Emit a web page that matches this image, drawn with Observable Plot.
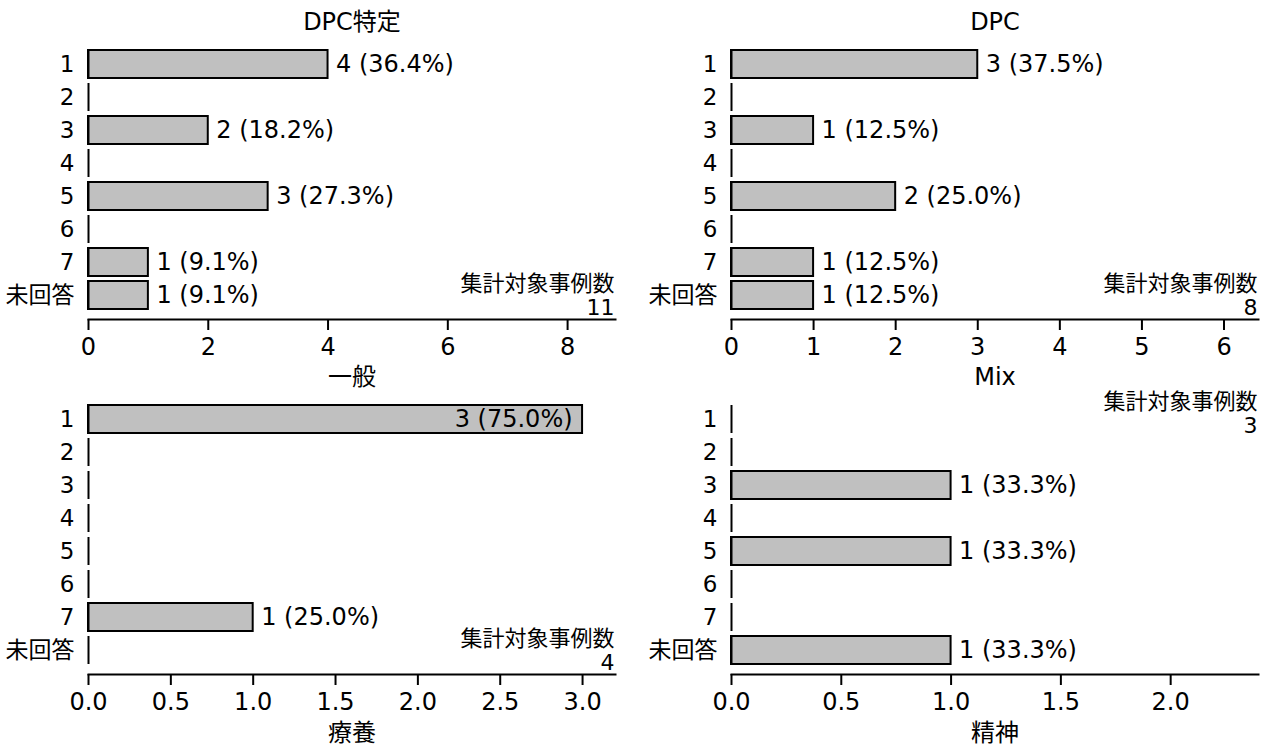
<!DOCTYPE html>
<html><head><meta charset="utf-8">
<script src="https://cdn.jsdelivr.net/npm/d3@7"></script>
<script src="https://cdn.jsdelivr.net/npm/@observablehq/plot@0.6"></script>
<style>
body{margin:0;background:#fff;}
#wrap{position:relative;width:1269px;height:746px;overflow:hidden;}
.panel{position:absolute;}
</style></head><body><div id="wrap"></div>
<script>
const categories = ["1","2","3","4","5","6","7","未回答"];
const titles = ["DPC特定","DPC","一般","Mix"];
const xLabels = [null, null, "療養", "精神"];
const valuesDpcTokutei = [4,0,2,0,3,0,1,1];
const valuesDpc = [3,0,1,0,2,0,1,1];
const valuesIppan = [3,0,0,0,0,0,1,0];
const valuesMix = [0,0,1,0,1,0,0,1];
const caseCounts = [11, 8, 4, 3];
const xDomainMax = [8.8, 6.42, 3.2, 2.4];
const xTicks = [[0,2,4,6,8],[0,1,2,3,4,5,6],[0,0.5,1,1.5,2,2.5,3],[0,0.5,1,1.5,2]];
const xTickFormat = ["d","d",".1f",".1f"];
const countLabel = "集計対象事例数";
const countTop = [false, false, false, true];

const seriesList = [valuesDpcTokutei, valuesDpc, valuesIppan, valuesMix];
const FONT = "'DejaVu Sans', 'Noto Sans CJK JP', sans-serif";
const FS_NUM = 24;
const FS_CJK = 22;

const layout = [
  {left: 0, top: 0, width: 634, height: 355, ml: 88, mr: 19},
  {left: 634, top: 0, width: 635, height: 355, ml: 97, mr: 11},
  {left: 0, top: 355, width: 634, height: 391, ml: 88, mr: 19},
  {left: 634, top: 355, width: 635, height: 391, ml: 97, mr: 11}
];

const wrap = document.getElementById("wrap");

seriesList.forEach((vals, i) => {
  const L = layout[i];
  const total = caseCounts[i];
  const rows = categories.map((c, k) => ({cat: c, value: vals[k]}));
  const nonzero = rows.filter(d => d.value > 0);
  const fmt = d => `${d.value} (${(d.value / total * 100).toFixed(1)}%)`;
  const inside = nonzero.filter(d => d.value / xDomainMax[i] > 0.7);
  const outside = nonzero.filter(d => d.value / xDomainMax[i] <= 0.7);
  const marginBottom = L.height - 319;
  const countMarks = countTop[i]
    ? [
        Plot.text([countLabel], {frameAnchor: "top-right", lineAnchor: "top", textAnchor: "end", dy: -6, dx: -1, fontSize: FS_CJK}),
        Plot.text([String(total)], {frameAnchor: "top-right", lineAnchor: "top", textAnchor: "end", dy: 18, dx: -1, fontSize: 22})
      ]
    : [
        Plot.text([countLabel], {frameAnchor: "bottom-right", lineAnchor: "bottom", textAnchor: "end", dy: -29, dx: -1, fontSize: FS_CJK}),
        Plot.text([String(total)], {frameAnchor: "bottom-right", lineAnchor: "bottom", textAnchor: "end", dy: -5, dx: -1, fontSize: 22})
      ];
  const marks = [
    Plot.barX(nonzero, {x: "value", y: "cat", fill: "#c0c0c0", stroke: "black", strokeWidth: 2}),
    Plot.tickX(rows, {x: 0, y: "cat", stroke: "black", strokeWidth: 2}),
    Plot.text(outside, {x: "value", y: "cat", text: fmt, textAnchor: "start", dx: 8, fontSize: FS_NUM}),
    Plot.text(inside, {x: "value", y: "cat", text: fmt, textAnchor: "end", dx: -10, fontSize: FS_NUM}),
    Plot.frame({anchor: "bottom", strokeWidth: 2}),
    Plot.axisX({ticks: xTicks[i], tickFormat: d3.format(xTickFormat[i]), tickSize: 11, tickPadding: 7, strokeWidth: 2, label: null, fontSize: FS_NUM}),
    Plot.axisY({tickSize: 0, tickPadding: 14, label: null, fontSize: 23}),
    Plot.text([titles[i]], {frameAnchor: "top", lineAnchor: "middle", dy: -22, fontSize: 24}),
    ...countMarks
  ];
  if (xLabels[i]) {
    marks.push(Plot.text([xLabels[i]], {frameAnchor: "bottom", lineAnchor: "middle", dy: 59, fontSize: 24}));
  }
  const chart = Plot.plot({
    width: L.width,
    height: L.height,
    marginLeft: L.ml,
    marginRight: L.mr,
    marginTop: 44,
    marginBottom: marginBottom,
    style: {fontSize: FS_CJK + "px", fontFamily: FONT, color: "black", background: "white", overflow: "visible"},
    x: {domain: [0, xDomainMax[i]], axis: null},
    y: {domain: categories, padding: 0.16, insetBottom: 4, axis: null},
    marks
  });
  chart.classList.add("panel");
  chart.style.left = L.left + "px";
  chart.style.top = L.top + "px";
  wrap.appendChild(chart);
});
</script>
</body></html>
